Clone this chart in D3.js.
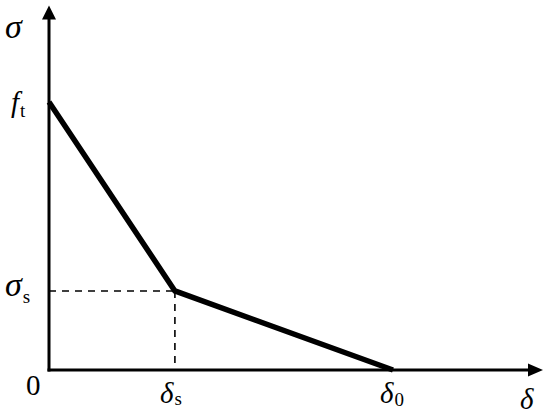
<!DOCTYPE html>
<html><head><meta charset="utf-8">
<script src="https://cdn.jsdelivr.net/npm/d3@7"></script>
<style>body{margin:0;background:#fff}svg{display:block}text{font-family:"Liberation Serif","Times New Roman",serif}</style>
</head><body>
<script>
// Data (normalized units)
const deltaVals = [0, 0.366, 1.0];        // 0, δs, δ0
const sigmaVals = [1.0, 0.295, 0];        // ft, σs, 0
const xTickLabels = ["δ", "δ"];           // δs, δ0
const xTickSubs = ["s", "0"];
const yTickLabels = ["f", "σ"];           // ft, σs
const yTickSubs = ["t", "s"];
const xMax = 1.436, yMax = 1.36;

const W = 550, H = 416;
const svg = d3.select("body").append("svg").attr("width", W).attr("height", H);
const x = d3.scaleLinear().domain([0, 1]).range([49, 393]);
const y = d3.scaleLinear().domain([0, 1]).range([370, 102]);

// axes
svg.append("line").attr("x1", x(0)).attr("y1", y(0) + 1.5).attr("x2", x(0)).attr("y2", y(yMax) + 12)
  .attr("stroke", "#000").attr("stroke-width", 3);
svg.append("line").attr("x1", x(0) - 1.5).attr("y1", y(0)).attr("x2", x(xMax) - 12).attr("y2", y(0))
  .attr("stroke", "#000").attr("stroke-width", 3);
const ty = y(yMax), tx = x(xMax);
svg.append("path").attr("d", `M${x(0)},${ty} L${x(0)-7},${ty+14} L${x(0)+7},${ty+14} Z`).attr("fill", "#000");
svg.append("path").attr("d", `M${tx},${y(0)} L${tx-15},${y(0)-6.5} L${tx-15},${y(0)+6.5} Z`).attr("fill", "#000");

// dashed guides
const ks = 1;
svg.append("path").attr("d", `M${x(0)},${y(sigmaVals[ks])} H${x(deltaVals[ks])}`)
  .attr("fill", "none").attr("stroke", "#000").attr("stroke-width", 1.6).attr("stroke-dasharray", "7,6");
svg.append("path").attr("d", `M${x(deltaVals[ks])},${y(sigmaVals[ks])} V${y(0)}`)
  .attr("fill", "none").attr("stroke", "#000").attr("stroke-width", 1.6).attr("stroke-dasharray", "7,6");

// softening curve
const pts = deltaVals.map((d, i) => [d, sigmaVals[i]]);
svg.append("path").datum(pts)
  .attr("d", d3.line().x(d => x(d[0])).y(d => y(d[1])))
  .attr("fill", "none").attr("stroke", "#000").attr("stroke-width", 5.5).attr("stroke-linejoin", "miter");

function lab(px, py, main, sub, size, subSize, subDy) {
  const t = svg.append("text").attr("x", px).attr("y", py).attr("font-size", size);
  t.append("tspan").attr("font-style", "italic").text(main);
  if (sub) t.append("tspan").attr("font-size", subSize).attr("dx", 1).attr("dy", subDy).text(sub);
  return t;
}
// axis titles
lab(5, 38, "σ", null, 34);
lab(520, 409, "δ", null, 29);
// y tick labels
lab(11, 112, yTickLabels[0], yTickSubs[0], 29, 19, 5);
lab(5, 296, yTickLabels[1], yTickSubs[1], 34, 19, 7);
// origin
svg.append("text").attr("x", 26).attr("y", 395).attr("font-size", 29).text("0");
// x tick labels
lab(160, 403, xTickLabels[0], xTickSubs[0], 29, 19, 2);
lab(380, 403, xTickLabels[1], xTickSubs[1], 29, 19, 3);
</script>
</body></html>
